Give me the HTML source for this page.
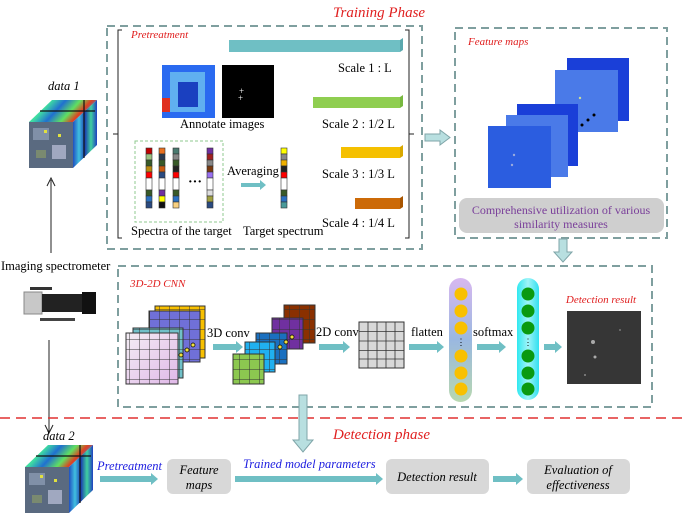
<!DOCTYPE html>
<html><head><meta charset="utf-8"><style>
html,body{margin:0;padding:0;background:#fff;}
svg{display:block;}
text{font-family:"Liberation Serif",serif;}
</style></head><body>
<svg width="685" height="513" viewBox="0 0 685 513" xmlns="http://www.w3.org/2000/svg">
<defs>
<pattern id="g10" width="10" height="10" patternUnits="userSpaceOnUse"><path d="M10 0V10H0" fill="none" stroke="#333" stroke-width="1"/></pattern>
<linearGradient id="pp" x1="0" y1="0" x2="0" y2="1"><stop offset="0" stop-color="#d8b8f0"/><stop offset="0.5" stop-color="#9ab8e0"/><stop offset="1" stop-color="#b8d8b0"/></linearGradient>
<linearGradient id="cp" x1="0" y1="0" x2="1" y2="0"><stop offset="0" stop-color="#30e8f0"/><stop offset="0.5" stop-color="#a0f4f8"/><stop offset="1" stop-color="#30e0f0"/></linearGradient>
<linearGradient id="pk" x1="0" y1="0" x2="1" y2="1"><stop offset="0" stop-color="#f4eef4"/><stop offset="1" stop-color="#e0b8e8"/></linearGradient>
<linearGradient id="stT" x1="0" y1="0" x2="1" y2="0.3"><stop offset="0" stop-color="#2090e0"/><stop offset="0.3" stop-color="#40e0a0"/><stop offset="0.5" stop-color="#2070d0"/><stop offset="0.7" stop-color="#60e060"/><stop offset="0.85" stop-color="#e04020"/><stop offset="1" stop-color="#3080e0"/></linearGradient>
<linearGradient id="stS" x1="0" y1="0" x2="1" y2="0"><stop offset="0" stop-color="#2050c0"/><stop offset="0.25" stop-color="#40c0e0"/><stop offset="0.5" stop-color="#1a3fb0"/><stop offset="0.75" stop-color="#40d0a0"/><stop offset="1" stop-color="#2040c0"/></linearGradient>
<g id="cube">
<polygon points="29,122 52,100 97,100 73,122" fill="url(#stT)"/>
<polygon points="73,122 97,100 97,145 73,168" fill="url(#stS)"/>
<rect x="29" y="122" width="44" height="46" fill="#5a6a80"/>
<rect x="33" y="128" width="16" height="12" fill="#8090a8"/>
<rect x="52" y="145" width="14" height="14" fill="#a0a8c0"/>
<rect x="36" y="150" width="10" height="8" fill="#7a8a70"/>
<rect x="44" y="130" width="3" height="3" fill="#e0e040"/>
<rect x="58" y="134" width="3" height="3" fill="#e0e040"/>
<line x1="84" y1="100" x2="84" y2="158" stroke="#111" stroke-width="1.2"/>
<line x1="40" y1="111" x2="95" y2="111" stroke="#111" stroke-width="1.2"/>
</g>
</defs>

<text x="333" y="17" font-size="15" font-style="italic" fill="#e02020">Training Phase</text>
<rect x="107" y="26" width="315" height="223" fill="none" stroke="#7f9f9f" stroke-width="2" stroke-dasharray="8,5"/>
<path d="M122 30H118V238H122 M118 134H113" fill="none" stroke="#222" stroke-width="1"/>
<path d="M405 30H409V238H405 M409 134H414" fill="none" stroke="#222" stroke-width="1"/>
<text x="131" y="38" font-size="11" font-style="italic" fill="#e02020">Pretreatment</text>

<rect x="229" y="40" width="171" height="12" fill="#6fbfc4"/><polygon points="400,40 403,38 403,50 400,52" fill="#5aa8ae"/>
<rect x="313" y="97" width="87" height="11" fill="#8fce50"/><polygon points="400,97 403,95 403,106 400,108" fill="#78b840"/>
<rect x="341" y="147" width="59" height="11" fill="#f5c000"/><polygon points="400,147 403,145 403,156 400,158" fill="#d8a800"/>
<rect x="355" y="198" width="45" height="11" fill="#cc6a08"/><polygon points="400,198 403,196 403,207 400,209" fill="#a85500"/>
<text x="338" y="72" font-size="12.5">Scale 1 : L</text>
<text x="322" y="128" font-size="12.5">Scale 2 : 1/2 L</text>
<text x="322" y="178" font-size="12.5">Scale 3 : 1/3 L</text>
<text x="322" y="227" font-size="12.5">Scale 4 : 1/4 L</text>

<rect x="162" y="65" width="53" height="53" fill="#2a6af0"/>
<rect x="170" y="72" width="35" height="40" fill="#60b0f0"/>
<rect x="178" y="82" width="20" height="25" fill="#1a40c0"/>
<rect x="162" y="98" width="8" height="14" fill="#e03020"/>
<rect x="222" y="65" width="52" height="53" fill="#000"/>
<text x="239" y="94" font-size="9" fill="#fff">+</text><text x="238" y="101" font-size="9" fill="#fff">+</text>
<text x="180" y="128" font-size="12.5">Annotate images</text>

<rect x="135" y="141" width="88" height="81" fill="none" stroke="#8fc88f" stroke-width="1" stroke-dasharray="3,2"/>
<g stroke="#333" stroke-width="0.6">
<g transform="translate(146,148)"><rect y="0" width="6" height="6" fill="#c00000"/><rect y="6" width="6" height="6" fill="#9ac080"/><rect y="12" width="6" height="6" fill="#385a28"/><rect y="18" width="6" height="6" fill="#b88a10"/><rect y="24" width="6" height="6" fill="#ff0000"/><rect y="30" width="6" height="12" fill="#fff"/><rect y="42" width="6" height="6" fill="#385a28"/><rect y="48" width="6" height="6" fill="#2a70c0"/><rect y="54" width="6" height="6" fill="#2a4a80"/></g>
<g transform="translate(159,148)"><rect y="0" width="6" height="6" fill="#e87020"/><rect y="6" width="6" height="6" fill="#2a3a50"/><rect y="12" width="6" height="6" fill="#385a28"/><rect y="18" width="6" height="6" fill="#c85a10"/><rect y="24" width="6" height="6" fill="#2a4a80"/><rect y="30" width="6" height="12" fill="#fff"/><rect y="42" width="6" height="6" fill="#7030a0"/><rect y="48" width="6" height="6" fill="#ffff00"/><rect y="54" width="6" height="6" fill="#111"/></g>
<g transform="translate(173,148)"><rect y="0" width="6" height="6" fill="#4a7a70"/><rect y="6" width="6" height="6" fill="#888"/><rect y="12" width="6" height="6" fill="#385a28"/><rect y="18" width="6" height="6" fill="#222"/><rect y="24" width="6" height="6" fill="#ff0000"/><rect y="30" width="6" height="12" fill="#fff"/><rect y="42" width="6" height="6" fill="#385a28"/><rect y="48" width="6" height="6" fill="#2a70c0"/><rect y="54" width="6" height="6" fill="#f8d080"/></g>
<g transform="translate(207,148)"><rect y="0" width="6" height="6" fill="#7030a0"/><rect y="6" width="6" height="6" fill="#a02020"/><rect y="12" width="6" height="6" fill="#888"/><rect y="18" width="6" height="6" fill="#7a3a10"/><rect y="24" width="6" height="6" fill="#9a70f0"/><rect y="30" width="6" height="12" fill="#fff"/><rect y="42" width="6" height="6" fill="#ddd"/><rect y="48" width="6" height="6" fill="#a0a040"/><rect y="54" width="6" height="6" fill="#2a4a80"/></g>
<g transform="translate(281,148)"><rect y="0" width="6" height="6" fill="#ffff00"/><rect y="6" width="6" height="6" fill="#888"/><rect y="12" width="6" height="6" fill="#f0b000"/><rect y="18" width="6" height="6" fill="#222"/><rect y="24" width="6" height="6" fill="#ff0000"/><rect y="30" width="6" height="12" fill="#fff"/><rect y="42" width="6" height="6" fill="#385a28"/><rect y="48" width="6" height="6" fill="#2a70c0"/><rect y="54" width="6" height="6" fill="#4a9a9a"/></g>
</g>
<text x="188" y="186" font-size="14" font-weight="bold">···</text>
<text x="227" y="175" font-size="12.5">Averaging</text>
<path d="M241 183H260V180L266 185L260 190V187H241Z" fill="#6fbfc4"/>
<text x="131" y="235" font-size="12.5">Spectra of the target</text>
<text x="243" y="235" font-size="12.5">Target spectrum</text>

<path d="M425 134H440V130L450 137.5L440 145V141H425Z" fill="#b8dfe0" stroke="#7fa5a8" stroke-width="1"/>

<rect x="455" y="28" width="212" height="210" fill="none" stroke="#7f9f9f" stroke-width="2" stroke-dasharray="8,5"/>
<text x="468" y="45" font-size="11" font-style="italic" fill="#e02020">Feature maps</text>
<rect x="567" y="58" width="62" height="63" fill="#1a3fd8"/>
<rect x="555" y="70" width="63" height="62" fill="#4a7ae8"/>
<rect x="517" y="104" width="61" height="62" fill="#1a3fd8"/>
<rect x="506" y="115" width="62" height="62" fill="#4a7ae8"/>
<rect x="488" y="126" width="63" height="62" fill="#2b5de0"/>
<circle cx="514" cy="155" r="1.2" fill="#9ad"/><circle cx="512" cy="165" r="1.2" fill="#9ad"/><circle cx="580" cy="98" r="1.2" fill="#cd9"/>
<circle cx="582" cy="125" r="1.5" fill="#000"/><circle cx="588" cy="120" r="1.5" fill="#000"/><circle cx="594" cy="115" r="1.5" fill="#000"/>
<rect x="459" y="198" width="205" height="35" rx="8" fill="#cfcfcf"/>
<text x="561" y="214" font-size="12" fill="#7a3f9a" text-anchor="middle">Comprehensive utilization of various</text>
<text x="561" y="228" font-size="12" fill="#7a3f9a" text-anchor="middle">similarity measures</text>
<path d="M559 239H567V252H572L563 262L554 252H559Z" fill="#b8dfe0" stroke="#7fa5a8" stroke-width="1"/>

<text x="48" y="90" font-size="12.5" font-style="italic">data 1</text>
<use href="#cube"/>
<line x1="51" y1="253" x2="51" y2="180" stroke="#222" stroke-width="1"/>
<path d="M47 186L51 178L55 186" fill="none" stroke="#222" stroke-width="1"/>
<text x="1" y="270" font-size="12.5">Imaging spectrometer</text>
<rect x="24" y="292" width="18" height="22" fill="#c8c8c8" stroke="#888"/>
<rect x="42" y="294" width="40" height="18" fill="#222"/>
<rect x="82" y="292" width="14" height="22" fill="#111"/>
<rect x="30" y="287" width="22" height="3" fill="#333"/>
<rect x="40" y="318" width="35" height="3" fill="#444"/>
<line x1="49" y1="340" x2="49" y2="432" stroke="#222" stroke-width="1"/>
<path d="M45 425L49 433L53 425" fill="none" stroke="#222" stroke-width="1"/>
<text x="43" y="440" font-size="12.5" font-style="italic">data 2</text>
<use href="#cube" transform="translate(-4,345)"/>

<rect x="118" y="266" width="534" height="141" fill="none" stroke="#7f9f9f" stroke-width="2" stroke-dasharray="8,5"/>
<text x="130" y="287" font-size="11" font-style="italic" fill="#e02020">3D-2D CNN</text>
<rect x="155" y="306" width="50" height="52" fill="#f8c000" stroke="#333"/><rect x="155" y="306" width="50" height="52" fill="url(#g10)"/>
<rect x="149" y="311" width="51" height="51" fill="#7070d8" stroke="#333"/><rect x="149" y="311" width="51" height="51" fill="url(#g10)"/>
<rect x="133" y="328" width="50" height="50" fill="#70c0c8" stroke="#333"/><rect x="133" y="328" width="50" height="50" fill="url(#g10)"/>
<rect x="126" y="333" width="52" height="51" fill="url(#pk)" stroke="#333"/><rect x="126" y="333" width="52" height="51" fill="url(#g10)"/>
<g fill="#f0e040" stroke="#000" stroke-width="0.7"><circle cx="181" cy="355" r="2"/><circle cx="187" cy="350" r="2"/><circle cx="193" cy="345" r="2"/></g>
<text x="207" y="337" font-size="12.5">3D conv</text>
<path d="M213 344H236V341L243 347L236 353V350H213Z" fill="#6fbfc4"/>
<rect x="284" y="305" width="31" height="38" fill="#8a3000" stroke="#333"/><rect x="284" y="305" width="31" height="38" fill="url(#g10)"/>
<rect x="272" y="318" width="31" height="31" fill="#7030a0" stroke="#333"/><rect x="272" y="318" width="31" height="31" fill="url(#g10)"/>
<rect x="256" y="333" width="31" height="31" fill="#1a70c0" stroke="#333"/><rect x="256" y="333" width="31" height="31" fill="url(#g10)"/>
<rect x="245" y="342" width="30" height="30" fill="#20b0f0" stroke="#333"/><rect x="245" y="342" width="30" height="30" fill="url(#g10)"/>
<rect x="233" y="354" width="31" height="30" fill="#8cc850" stroke="#333"/><rect x="233" y="354" width="31" height="30" fill="url(#g10)"/>
<g fill="#f0e040" stroke="#000" stroke-width="0.7"><circle cx="280" cy="347" r="2"/><circle cx="286" cy="342" r="2"/><circle cx="292" cy="337" r="2"/></g>
<text x="316" y="336" font-size="12.5">2D conv</text>
<path d="M319 344H343V341L350 347L343 353V350H319Z" fill="#6fbfc4"/>
<rect x="359" y="322" width="45" height="46" fill="#d8d8d8" stroke="#333"/>
<path d="M368 322V368M377 322V368M386 322V368M395 322V368M359 331.5H404M359 341H404M359 350.5H404M359 359H404" stroke="#333" stroke-width="0.8"/>
<text x="411" y="336" font-size="12.5">flatten</text>
<path d="M409 344H437V341L444 347L437 353V350H409Z" fill="#6fbfc4"/>
<rect x="449" y="278" width="23" height="124" rx="11.5" fill="url(#pp)"/>
<g fill="#f8c000"><circle cx="461" cy="294" r="6.5"/><circle cx="461" cy="311" r="6.5"/><circle cx="461" cy="328" r="6.5"/><circle cx="461" cy="356" r="6.5"/><circle cx="461" cy="373" r="6.5"/><circle cx="461" cy="389" r="6.5"/></g>
<text x="461" y="345" font-size="9" text-anchor="middle">⋮</text>
<text x="473" y="336" font-size="12.5">softmax</text>
<path d="M477 344H499V341L506 347L499 353V350H477Z" fill="#6fbfc4"/>
<rect x="517" y="278" width="22" height="122" rx="11" fill="url(#cp)"/>
<g fill="#0a9a10"><circle cx="528" cy="294" r="6.5"/><circle cx="528" cy="311" r="6.5"/><circle cx="528" cy="328" r="6.5"/><circle cx="528" cy="356" r="6.5"/><circle cx="528" cy="373" r="6.5"/><circle cx="528" cy="389" r="6.5"/></g>
<text x="528" y="345" font-size="9" text-anchor="middle">⋮</text>
<path d="M544 344H555V341L562 347L555 353V350H544Z" fill="#6fbfc4"/>
<text x="601" y="303" font-size="11" font-style="italic" fill="#e02020" text-anchor="middle">Detection result</text>
<rect x="567" y="311" width="74" height="73" fill="#363636"/>
<circle cx="593" cy="342" r="2" fill="#aaa"/><circle cx="595" cy="357" r="1.5" fill="#aaa"/><circle cx="585" cy="375" r="1" fill="#888"/><circle cx="620" cy="330" r="1" fill="#777"/>

<line x1="0" y1="418" x2="685" y2="418" stroke="#e03030" stroke-width="1.5" stroke-dasharray="10,6"/>
<path d="M299 395H307V440H313L303 452L293 440H299Z" fill="#b8dfe0" stroke="#7fa5a8" stroke-width="1"/>
<text x="333" y="439" font-size="15" font-style="italic" fill="#e02020">Detection phase</text>
<text x="97" y="470" font-size="12.5" font-style="italic" fill="#2020e0">Pretreatment</text>
<path d="M100 476H151V473L158 479L151 485V482H100Z" fill="#6fbfc4"/>
<rect x="167" y="459" width="64" height="35" rx="6" fill="#d8d8d8"/>
<text x="199" y="474" font-size="12.5" font-style="italic" text-anchor="middle">Feature</text>
<text x="199" y="489" font-size="12.5" font-style="italic" text-anchor="middle">maps</text>
<text x="243" y="468" font-size="12.5" font-style="italic" fill="#2020e0">Trained model parameters</text>
<path d="M235 476H376V473L383 479L376 485V482H235Z" fill="#6fbfc4"/>
<rect x="386" y="459" width="103" height="35" rx="6" fill="#d8d8d8"/>
<text x="437" y="481" font-size="12.5" font-style="italic" text-anchor="middle">Detection result</text>
<path d="M493 476H516V473L523 479L516 485V482H493Z" fill="#6fbfc4"/>
<rect x="527" y="459" width="103" height="35" rx="6" fill="#d8d8d8"/>
<text x="578" y="474" font-size="12.5" font-style="italic" text-anchor="middle">Evaluation of</text>
<text x="578" y="489" font-size="12.5" font-style="italic" text-anchor="middle">effectiveness</text>
</svg>
</body></html>
